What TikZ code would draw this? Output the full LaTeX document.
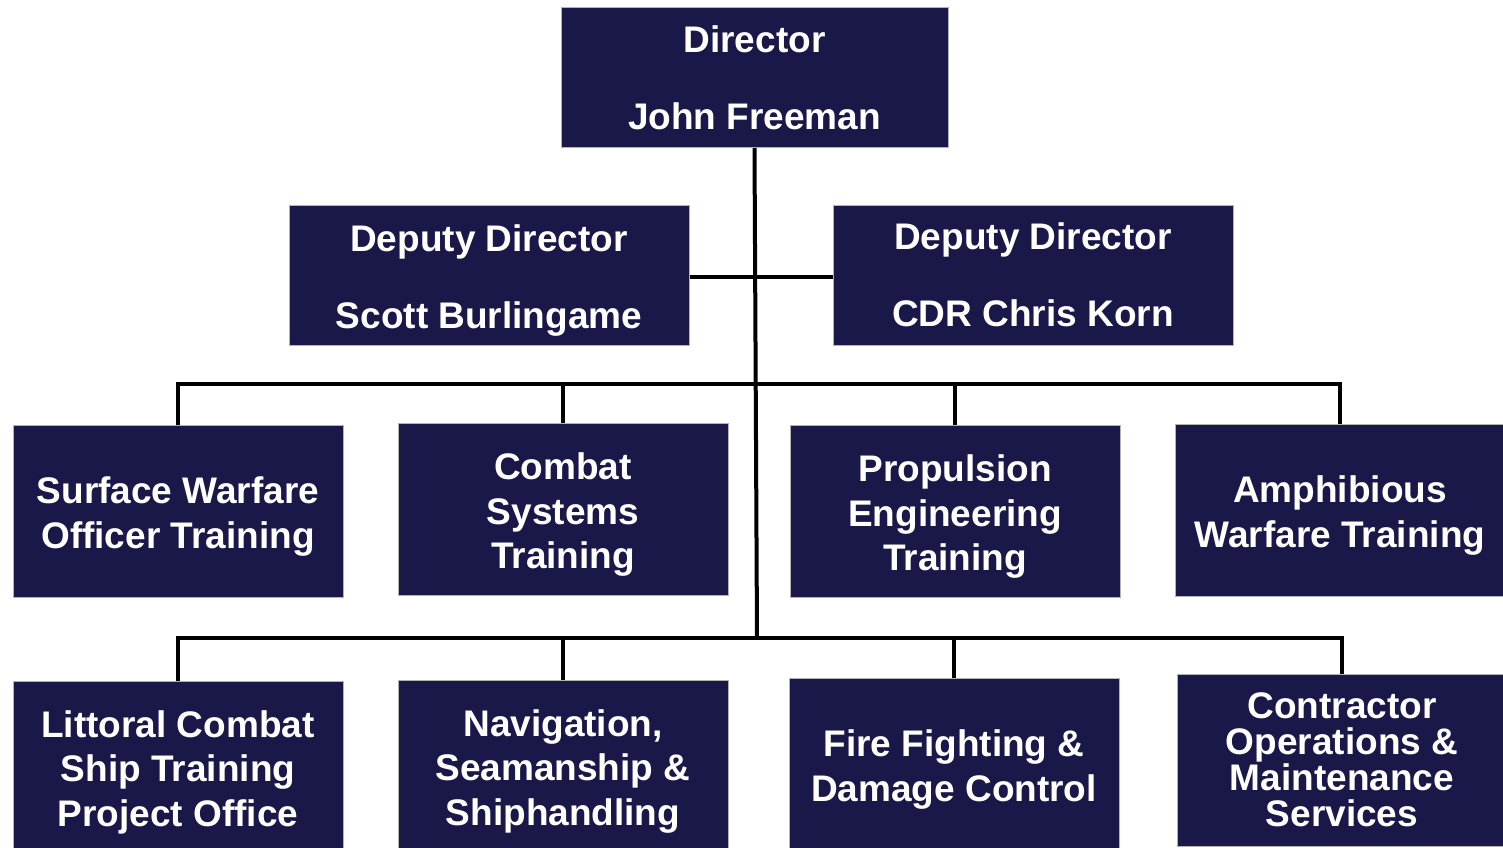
\documentclass[tikz,border=0pt]{standalone}
\usepackage{fontspec}
\setmainfont{Liberation Sans}
\usepackage{tikz}
\usetikzlibrary{positioning}
\definecolor{navy}{RGB}{26,24,72}
\newcommand{\tallline}{\rule{0pt}{18.5pt}}

\begin{document}
\begin{tikzpicture}[x=0.5pt, y=-0.5pt,
  every node/.style={rectangle, fill=navy, draw=gray!60, line width=0.5pt, text=white,
    font=\bfseries\fontsize{18.5}{22.25}\selectfont, align=center, inner sep=0pt},
  head/.style={font=\bfseries\fontsize{18.5}{38.5}\selectfont, minimum height=70pt, minimum width=200pt},
  unit/.style={minimum width=165pt, minimum height=86pt},
  link/.style={line width=2pt}]
\useasboundingbox (0,0) rectangle (1503,847);
% Director and deputies
\node[head, minimum width=193.5pt] (dir) at (754.5,77.5) {Director\\John Freeman};
\node[head] (depL) at (489,275) {\tallline Deputy Director\\Scott Burlingame};
\node[head] (depR) at (1033,275) {Deputy Director\\CDR Chris Korn};
\coordinate (b1) at (756,384);
\coordinate (b2) at (757,638);
\draw[link] (dir.south) -- (b2);
\draw[link] (depL.east |- 0,277) -- (depR.west |- 0,277);

% First row
\node[unit] (swo) at (178,511.5) {\tallline Surface Warfare\\Officer Training};
\node[unit] (cst) at (563,509.5) {\tallline Combat\\Systems\\Training};
\node[unit] (pet) at (955,511.5) {\tallline Propulsion\\Engineering\\Training};
\node[unit] (awt) at (1340,510.5) {\tallline Amphibious\\Warfare Training};
\draw[link] (swo.north) |- (awt.north |- b1) -- (awt.north);
\draw[link] (cst.north) -- (cst.north |- b1);
\draw[link] (pet.north) -- (pet.north |- b1);

% Second row
\node[unit] (lcs) at (178,767) {\tallline Littoral Combat\\Ship Training\\Project Office};
\node[unit] (nav) at (563,766) {\tallline Navigation,\\Seamanship \&\\Shiphandling};
\node[unit] (ffd) at (954,764.5) {\tallline Fire Fighting \&\\Damage Control};
\node[unit, font=\bfseries\fontsize{18.5}{18}\selectfont] (com) at (1342,760) {Contractor\\Operations \&\\Maintenance\\Services};
\draw[link] (lcs.north) |- (com.north |- b2) -- (com.north);
\draw[link] (nav.north) -- (nav.north |- b2);
\draw[link] (ffd.north) -- (ffd.north |- b2);
\end{tikzpicture}
\end{document}
